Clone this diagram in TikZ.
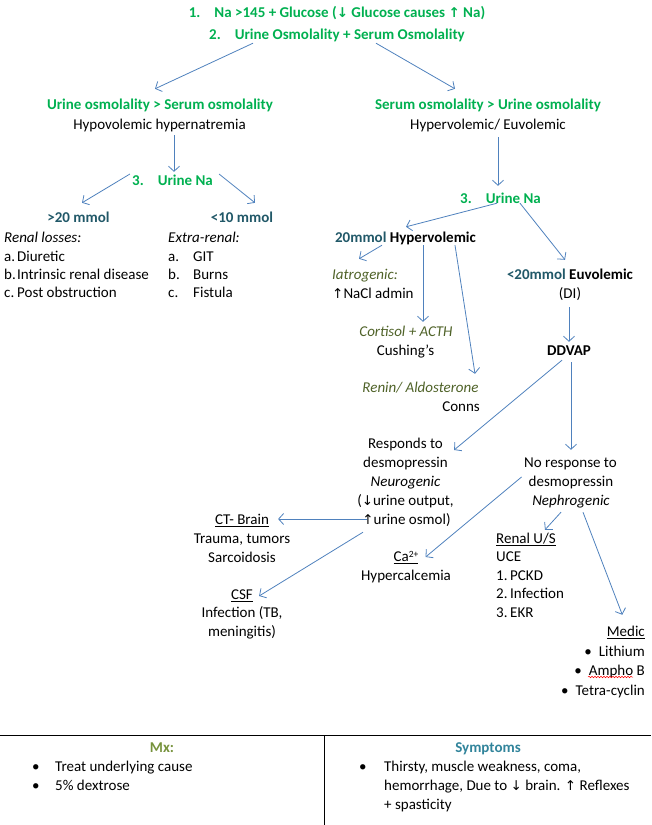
\documentclass[tikz,border=0pt]{standalone}
\usepackage{fontspec}
\setmainfont{Carlito}
\newfontfamily\symf[Scale=0.9]{DejaVu Sans}
\newcommand\dnar{{\symf\char"2193}}
\newcommand\upar{{\symf\char"2191}}
\newcommand\fs{\fontsize{15pt}{19pt}\selectfont}
\newcommand\smallsup[1]{\raisebox{4.5pt}{\fontsize{9.5pt}{10pt}\selectfont #1}}
\usetikzlibrary{arrows.meta,decorations.pathmorphing}
\definecolor{grn}{RGB}{0,176,80}
\definecolor{tealdk}{RGB}{33,88,104}
\definecolor{olv}{RGB}{79,98,40}
\definecolor{mxc}{RGB}{118,146,60}
\definecolor{symc}{RGB}{49,132,155}
\definecolor{arrc}{RGB}{79,129,189}
\tikzset{
  every node/.style={font=\fs, inner sep=0pt, text height=12pt, text depth=1pt},
  gb/.style={text=grn, font=\fs\bfseries},
  tb/.style={text=tealdk, font=\fs\bfseries},
  ol/.style={text=olv, font=\fs\itshape},
  bf/.style={font=\fs\bfseries},
  it/.style={font=\fs\itshape},
  arr/.style={draw=arrc, line width=0.8pt, -{Straight Barb[length=5pt,width=11pt]}},
  rule/.style={draw=black, line width=0.8pt}
}
\begin{document}
\begin{tikzpicture}[x=1pt,y=-1pt]
\useasboundingbox (0,0) rectangle (651,825);
% top
\node[gb] (t1) at (337,12) {1.\hspace{14pt}Na >145 + Glucose (\dnar\ Glucose causes \upar\ Na)};
\node[gb] (t2) at (337,34) {2.\hspace{14pt}Urine Osmolality + Serum Osmolality};
% left branch
\node[gb] (uo) at (160,104) {Urine osmolality > Serum osmolality};
\node (hypo) at (159.5,124) {Hypovolemic hypernatremia};
\node[gb] (un1) at (172.5,180) {3.\hspace{14pt}Urine Na};
\node[tb] (gt20) at (78.5,217) {>20 mmol};
\node[tb] (lt10) at (242,217) {<10 mmol};
\node[it, anchor=west] (rl) at (4,237) {Renal losses:};
\node[anchor=west] (rla) at (4,256) {\makebox[13pt][l]{a.}Diuretic};
\node[anchor=west] (rlb) at (4,274) {\makebox[13pt][l]{b.}Intrinsic renal disease};
\node[anchor=west] (rlc) at (4,292) {\makebox[13pt][l]{c.}Post obstruction};
\node[it, anchor=west] (er) at (168,237) {Extra-renal:};
\node[anchor=west] (era) at (168,256) {\makebox[25pt][l]{a.}GIT};
\node[anchor=west] (erb) at (168,274) {\makebox[25pt][l]{b.}Burns};
\node[anchor=west] (erc) at (168,292) {\makebox[25pt][l]{c.}Fistula};
% right branch
\node[gb] (so) at (488,104) {Serum osmolality > Urine osmolality};
\node (hyper) at (488,124) {Hypervolemic/ Euvolemic};
\node[gb] (un2) at (500.5,198) {3.\hspace{14pt}Urine Na};
\node[bf] (hv) at (405.5,237) {\textcolor{tealdk}{20mmol} Hypervolemic};
\node[ol, anchor=west] (iat) at (332,274) {Iatrogenic:};
\node[anchor=west] (nacl) at (332,293) {\upar NaCl admin};
\node[ol] (cort) at (406,331) {Cortisol + ACTH};
\node (cush) at (405.5,350) {Cushing’s};
\node[ol] (ren) at (420.5,387) {Renin/ Aldosterone};
\node[anchor=east] (conns) at (480,406) {Conns};
\node[bf] (eu) at (570,274) {\textcolor{tealdk}{<20mmol} Euvolemic};
\node (di) at (570,293) {(DI)};
\node[bf] (ddvap) at (569,350) {DDVAP};
\node (resp) at (405.5,443) {Responds to};
\node (desm1) at (405.5,462) {desmopressin};
\node[it] (neur) at (405.5,481) {Neurogenic};
\node (uout) at (405.5,500) {(\dnar urine output,};
\node (uosm) at (406.5,519) {\upar urine osmol)};
\node (nr) at (570.5,462) {No response to};
\node (desm2) at (571,481) {desmopressin};
\node[it] (neph) at (571,500) {Nephrogenic};
\node (ctb) at (242,519) {\underline{CT- Brain}};
\node (ctb1) at (242,538) {Trauma, tumors};
\node (ctb2) at (242,557) {Sarcoidosis};
\node (csf) at (242,594) {\underline{CSF}};
\node (csf1) at (242,612) {Infection (TB,};
\node (csf2) at (242,631) {meningitis)};
\node (ca) at (406,556) {\underline{Ca\smallsup{2+}}};
\node (hca) at (406,575) {Hypercalcemia};
\node[anchor=west] (rus) at (496,538) {\underline{Renal U/S}};
\node[anchor=west] (uce) at (496,556) {UCE};
\node[anchor=west] (r1) at (496,575) {\makebox[14pt][l]{1.}PCKD};
\node[anchor=west] (r2) at (496,593) {\makebox[14pt][l]{2.}Infection};
\node[anchor=west] (r3) at (496,612) {\makebox[14pt][l]{3.}EKR};
\node[anchor=east] (medic) at (645,631) {\underline{Medic}};
\node[anchor=east] (m1) at (645,651) {\textbullet\hspace{7pt}Lithium};
\node[anchor=east] (m2) at (645,670) {\textbullet\hspace{7pt}Ampho B};
\node[anchor=east] (m3) at (645,690) {\textbullet\hspace{7pt}Tetra-cyclin};
\draw[red, line width=0.5pt, decorate, decoration={snake, amplitude=0.8pt, segment length=3pt}] (588,677) -- (633,677);
% connectors
\draw[arr] ([shift={(-84,2.5)}]t2.south) -- ([shift={(-5,-8.5)}]uo.north);
\draw[arr] ([shift={(39,2.5)}]t2.south) -- ([shift={(-33,-8.5)}]so.north);
\draw[arr] ([shift={(14.5,4.5)}]hypo.south) -- ([shift={(1.5,-1.5)}]un1.north);
\draw[arr] ([shift={(-2,-6)}]un1.west) -- ([shift={(3.5,-7.5)}]gt20.north);
\draw[arr] ([shift={(6,-6)}]un1.east) -- ([shift={(13,-7.5)}]lt10.north);
\draw[arr] ([shift={(10,6.5)}]hyper.south) -- ([shift={(-2.5,-5.5)}]un2.north);
\draw[arr] ([shift={(-3.5,-1.5)}]un2.south) -- ([shift={(0.5,-3.5)}]hv.north);
\draw[arr] ([shift={(19.5,-1.5)}]un2.south) -- ([shift={(-5,-7.5)}]eu.north);
\draw[arr] ([shift={(-23.5,1.5)}]hv.south) -- ([shift={(-6,-8.5)}]iat.north);
\draw[arr] ([shift={(17.5,1.5)}]hv.south) -- ([shift={(17,-2.5)}]cort.north);
\draw[arr] ([shift={(49.5,1.5)}]hv.south) -- ([shift={(54.5,-6.5)}]ren.north);
\draw[arr] ([shift={(-1,7.5)}]di.south) -- ([shift={(0,-1.5)}]ddvap.north);
\draw[arr] ([shift={(-7,3.5)}]ddvap.south) -- ([shift={(11,7)}]resp.east);
\draw[arr] ([shift={(2,5.5)}]ddvap.south) -- ([shift={(0.5,-5.5)}]nr.north);
\draw[arr] ([shift={(5,0)}]uosm.west) -- ([shift={(9,0)}]ctb.east);
\draw[arr] ([shift={(-43.5,6.5)}]uosm.south) -- ([shift={(6,2)}]csf.east);
\draw[arr] ([shift={(-7,-4)}]desm2.west) -- ([shift={(7,1)}]ca.east);
\draw[arr] ([shift={(-10,5.5)}]neph.south) -- ([shift={(19,-1.5)}]rus.north);
\draw[arr] ([shift={(12,5.5)}]neph.south) -- ([shift={(-3.5,-9.5)}]medic.north);
% bottom table
\draw[rule] (0,735.5) -- (651,735.5);
\draw[rule] (324,735.5) -- (324,825);
\node[font=\fs\bfseries, text=mxc] (mx) at (162,747) {Mx:};
\node[anchor=west] (mx1) at (32,766) {\makebox[23pt][l]{\textbullet}Treat underlying cause};
\node[anchor=west] (mx2) at (32,785) {\makebox[23pt][l]{\textbullet}5\% dextrose};
\node[font=\fs\bfseries, text=symc] (sym) at (488,747) {Symptoms};
\node[anchor=west] (s1) at (359,766) {\makebox[25pt][l]{\textbullet}Thirsty, muscle weakness, coma,};
\node[anchor=west] (s2) at (384,785) {hemorrhage, Due to \dnar\ brain. \upar\ Reflexes};
\node[anchor=west] (s3) at (384,804) {+ spasticity};
\end{tikzpicture}
\end{document}
